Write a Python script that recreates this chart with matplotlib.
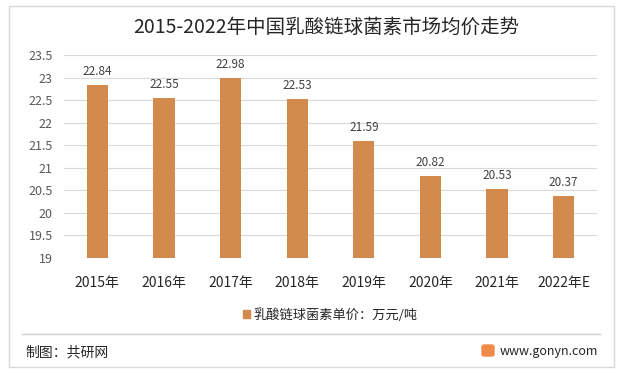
import numpy as np
import matplotlib.pyplot as plt
from matplotlib.patches import Rectangle, FancyBboxPatch

plt.rcParams['font.family'] = ['Noto Sans CJK SC', 'DejaVu Sans']

# Data
years = ['2015年', '2016年', '2017年', '2018年', '2019年', '2020年', '2021年', '2022年E']
price = [22.84, 22.55, 22.98, 22.53, 21.59, 20.82, 20.53, 20.37]
yticks = [19, 19.5, 20, 20.5, 21, 21.5, 22, 22.5, 23, 23.5]

bar_color = '#D38B4D'

fig = plt.figure(figsize=(6.23, 3.73), dpi=100)
W, H = 623, 373

# Outer frame
fig.patches.append(Rectangle((9 / W, 6 / H), 605 / W, 361 / H, transform=fig.transFigure,
                             fill=False, edgecolor='#D9D9D9', lw=1))

ax = fig.add_axes([64 / W, (H - 258) / H, 533 / W, 203 / H])
x = np.arange(len(years))
ax.bar(x, price, width=0.32, color=bar_color, zorder=2)
for xi, v in zip(x, price):
    ax.text(xi, v + 0.16, f'{v:.2f}', ha='center', va='bottom', fontsize=8.5, color='#404040')

ax.set_ylim(19, 23.5)
ax.set_xlim(-0.5, len(years) - 0.5)
ax.set_yticks(yticks)
ax.set_yticklabels([f'{t:g}' for t in yticks], fontsize=9, color='#595959')
ax.set_xticks(x)
ax.set_xticklabels(years, fontsize=10, color='#262626')
ax.tick_params(axis='y', length=0, pad=8)
ax.tick_params(axis='x', length=0, pad=13)
ax.yaxis.grid(True, color='#D9D9D9', lw=0.8, zorder=0)
for s in ax.spines.values():
    s.set_visible(False)

fig.text(133 / W, (H - 27) / H, '2015-2022年中国乳酸链球菌素市场均价走势', ha='left', va='center',
         fontsize=14, color='#262626')

# Legend
fig.patches.append(Rectangle((243 / W, (H - 318) / H), 7 / W, 8 / H, transform=fig.transFigure,
                             color=bar_color))
fig.text(253 / W, (H - 315) / H, '乳酸链球菌素单价：万元/吨', ha='left', va='center',
         fontsize=9.5, color='#262626')

# Separator line
fig.add_artist(plt.Line2D([22 / W, 600 / W], [(H - 334) / H, (H - 334) / H],
                          color='#D0D0D0', lw=1, transform=fig.transFigure))

# Footer
fig.text(25 / W, (H - 352) / H, '制图：共研网', ha='left', va='center', fontsize=10, color='#262626')
fig.patches.append(FancyBboxPatch((482 / W, (H - 356) / H), 12 / W, 11 / H, transform=fig.transFigure,
                                  boxstyle='round,pad=0,rounding_size=0.004', color='#F08A4B'))
fig.text(500 / W, (H - 352) / H, 'www.gonyn.com', ha='left', va='center', fontsize=9, color='#262626')

fig.savefig('out.png', dpi=100)
